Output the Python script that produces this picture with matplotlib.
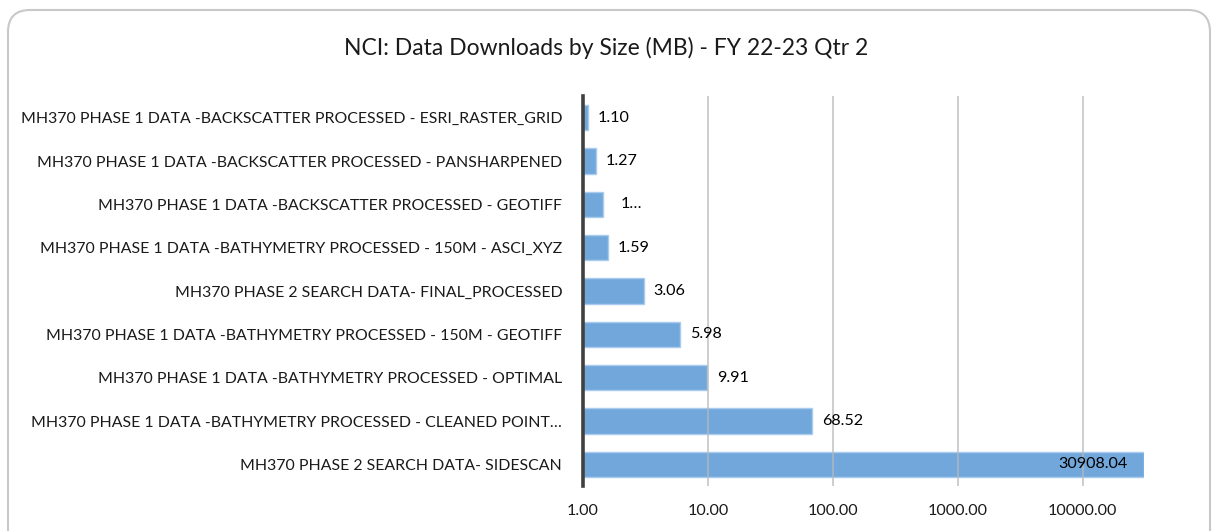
import matplotlib.pyplot as plt
from matplotlib.patches import FancyBboxPatch
from matplotlib.transforms import IdentityTransform

plt.rcParams['font.family'] = ['Lato', 'DejaVu Sans']

# data, top to bottom as in the chart
datasets = [
    'MH370 PHASE 1 DATA -BACKSCATTER PROCESSED - ESRI_RASTER_GRID',
    'MH370 PHASE 1 DATA -BACKSCATTER PROCESSED - PANSHARPENED',
    'MH370 PHASE 1 DATA -BACKSCATTER PROCESSED - GEOTIFF',
    'MH370 PHASE 1 DATA -BATHYMETRY PROCESSED - 150M - ASCI_XYZ',
    'MH370 PHASE 2 SEARCH DATA- FINAL_PROCESSED',
    'MH370 PHASE 1 DATA -BATHYMETRY PROCESSED - 150M - GEOTIFF',
    'MH370 PHASE 1 DATA -BATHYMETRY PROCESSED - OPTIMAL',
    'MH370 PHASE 1 DATA -BATHYMETRY PROCESSED - CLEANED POINT\u2026',
    'MH370 PHASE 2 SEARCH DATA- SIDESCAN',
]
size_mb = [1.10, 1.27, 1.44, 1.59, 3.06, 5.98, 9.91, 68.52, 30908.04]
value_labels = ['1.10', '1.27', '1\u2026', '1.59', '3.06', '5.98', '9.91', '68.52', '30908.04']

fig = plt.figure(figsize=(12.13, 5.31), dpi=100)
ax = fig.add_axes([0.4806, 0.0847, 0.4625, 0.7345])

ypos = list(range(len(datasets)))
# bars start at the log axis base (1.00)
ax.barh(ypos, [v - 1 for v in size_mb], height=0.58, left=1, color='#72a7db',
        edgecolor='#a9cbee', linewidth=1, zorder=2)
ax.set_xscale('log')
ax.set_xlim(1, 30908.04)
ax.set_ylim(len(datasets) - 0.5, -0.5)

ax.set_yticks(ypos)
ax.set_yticklabels(datasets, fontsize=11.4, color='#1a1a1a')
ax.set_xticks([1, 10, 100, 1000, 10000])
ax.set_xticklabels(['1.00', '10.00', '100.00', '1000.00', '10000.00'],
                   fontsize=11.6, color='#1a1a1a')
ax.minorticks_off()
ax.tick_params(length=0)
ax.tick_params(axis='y', pad=15)
ax.tick_params(axis='x', pad=13)

ax.grid(axis='x', color='#b8b8b8', linewidth=1.2, alpha=0.8, zorder=3)
ax.set_axisbelow(False)
for s in ['top', 'right', 'bottom']:
    ax.spines[s].set_visible(False)
ax.spines['left'].set_color('#404040')
ax.spines['left'].set_linewidth(2.6)
ax.spines['left'].set_zorder(4)

for i, (v, lab) in enumerate(zip(size_mb, value_labels)):
    if i == len(size_mb) - 1:
        ax.annotate(lab, (v, i), xytext=(-12, 0), textcoords='offset points',
                    ha='right', va='center', fontsize=11.6, zorder=5)
    elif lab.endswith('\u2026'):
        ax.annotate(lab, (v, i), xytext=(13, 0), textcoords='offset points',
                    ha='left', va='center', fontsize=11.6, zorder=5)
    else:
        ax.annotate(lab, (v, i), xytext=(7, 0), textcoords='offset points',
                    ha='left', va='center', fontsize=11.6, zorder=5)

fig.text(0.5, 0.91, 'NCI: Data Downloads by Size (MB) - FY 22-23 Qtr 2',
         ha='center', va='center', fontsize=16.5, color='#1a1a1a')

# rounded chart frame (pixel coords)
frame = FancyBboxPatch((8, -20), 1202, 541, boxstyle='round,pad=0,rounding_size=22',
                       transform=IdentityTransform(), facecolor='none',
                       edgecolor='#c8c8c8', linewidth=1.5)
fig.patches.append(frame)

fig.savefig('out.png', dpi=100)
